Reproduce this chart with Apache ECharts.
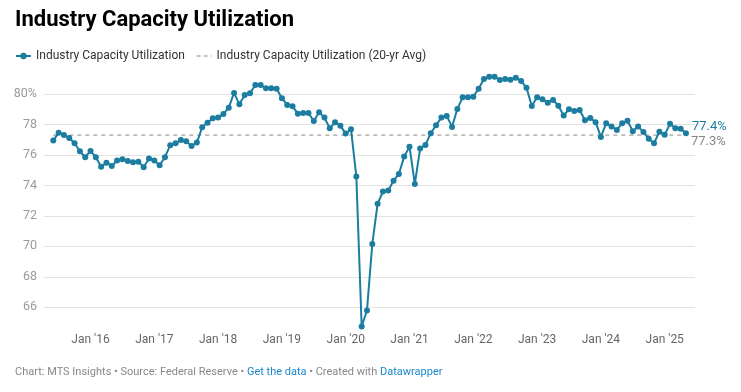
<!DOCTYPE html>
<html><head><meta charset="utf-8">
<script src="https://cdn.jsdelivr.net/npm/echarts@6/dist/echarts.min.js"></script>
<style>html,body{margin:0;padding:0;background:#fff}#c{width:741px;height:392px}</style>
</head><body><div id="c"></div>
<script>
// Monthly, June 2015 .. May 2025
const seriesName = 'Industry Capacity Utilization';
const avgName = 'Industry Capacity Utilization (20-yr Avg)';
const values = [
  76.94, 77.46, 77.31, 77.11, 76.77, 76.24, 75.85,            // Jun-Dec 2015
  76.26, 75.85, 75.23, 75.49, 75.28, 75.63, 75.72, 75.60, 75.52, 75.56, 75.19, 75.76, // 2016
  75.63, 75.32, 75.85, 76.64, 76.77, 76.98, 76.90, 76.59, 76.81, 77.81, 78.12, 78.40, // 2017
  78.45, 78.69, 79.10, 80.07, 79.32, 79.93, 80.05, 80.59, 80.59, 80.37, 80.37, 80.35, // 2018
  79.72, 79.28, 79.19, 78.71, 78.75, 78.75, 78.23, 78.80, 78.45, 77.75, 78.14, 77.92, // 2019
  77.40, 77.68, 74.58, 64.74, 65.79, 70.16, 72.79, 73.60, 73.66, 74.30, 74.75, 75.89, // 2020
  76.54, 74.10, 76.42, 76.66, 77.42, 77.95, 78.45, 78.56, 77.84, 79.02, 79.78, 79.78, // 2021
  79.82, 80.35, 80.98, 81.13, 81.13, 80.92, 80.98, 80.94, 81.07, 80.85, 80.41, 79.21, // 2022
  79.78, 79.65, 79.43, 79.61, 79.23, 78.58, 79.00, 78.89, 78.95, 78.28, 78.43, 78.15, // 2023
  77.18, 78.08, 77.86, 77.64, 78.08, 78.24, 77.56, 77.87, 77.50, 77.06, 76.77, 77.52, // 2024
  77.32, 78.04, 77.75, 77.72, 77.42                                                   // 2025
];
const avgValue = 77.3;
const xTickIndices = [7, 19, 31, 43, 55, 67, 79, 91, 103, 115];
const xTickLabels = ["Jan '16", "Jan '17", "Jan '18", "Jan '19", "Jan '20", "Jan '21", "Jan '22", "Jan '23", "Jan '24", "Jan '25"];
const yTicks = [66, 68, 70, 72, 74, 76, 78, 80];

const BLUE = '#1b7d9f';
const FONT = 'Roboto, "Noto Sans", sans-serif';

const mainData = values.map((v, i) => [i, v]);
const avgData = values.map((v, i) => [i, avgValue]);

const chart = echarts.init(document.getElementById('c'), null, {renderer: 'canvas'});
chart.setOption({
  animation: false,
  backgroundColor: '#fff',
  textStyle: {fontFamily: FONT},
  title: [{
    text: 'Industry Capacity Utilization',
    left: 15, top: 9, padding: 0,
    textStyle: {fontSize: 22, fontWeight: 'bold', color: '#000', fontFamily: FONT}
  }, {
    text: '{g|Chart: MTS Insights • Source: Federal Reserve • }{b|Get the data}{g| • Created with }{b|Datawrapper}',
    left: 15, top: 367, padding: 0,
    textStyle: {
      fontSize: 11, fontWeight: 'normal', fontFamily: FONT,
      rich: {
        g: {color: '#888888', fontSize: 11, fontFamily: FONT},
        b: {color: '#1a87c9', fontSize: 11, fontFamily: FONT}
      }
    }
  }],
  legend: {
    left: 15, top: 50, padding: 0,
    itemWidth: 15, itemHeight: 8, itemGap: 11,
    textStyle: {fontSize: 12, color: '#333', fontFamily: FONT},
    data: [
      {name: seriesName},
      {name: avgName, itemStyle: {color: 'transparent', borderColor: 'transparent', borderWidth: 0, opacity: 0},
       lineStyle: {color: '#b0b0b0', width: 1.5, type: [4, 3]}}
    ]
  },
  grid: {left: 44, right: 46, top: 63.5, bottom: 54.2, containLabel: false},
  xAxis: {
    type: 'value', min: -1.75, max: 120.7,
    axisLine: {show: false}, axisTick: {show: false}, splitLine: {show: false},
    axisLabel: {
      customValues: xTickIndices,
      formatter: v => xTickLabels[xTickIndices.indexOf(Math.round(v))] || '',
      color: '#666', fontSize: 12, margin: -4, fontFamily: FONT
    }
  },
  yAxis: {
    type: 'value', min: 64, max: 82, interval: 2,
    axisLine: {show: false}, axisTick: {show: false},
    splitLine: {show: true, showMinLine: false, showMaxLine: false, lineStyle: {color: '#e3e3e3', width: 1}},
    axisLabel: {
      color: '#9a9a9a', fontSize: 12.5, margin: 7, fontFamily: FONT,
      formatter: v => yTicks.indexOf(v) < 0 ? '' : (v === 80 ? v + '%' : String(v))
    }
  },
  series: [{
    name: avgName, type: 'line', data: avgData,
    showSymbol: false, symbol: 'none',
    lineStyle: {color: '#a0a0a0', width: 1.2, type: [4, 4]},
    itemStyle: {color: '#a0a0a0'},
    z: 1,
    endLabel: {
      show: true, distance: 5, offset: [0, 7],
      formatter: p => avgValue.toFixed(1) + '%',
      color: '#888', fontSize: 13, fontFamily: FONT
    }
  }, {
    name: seriesName, type: 'line', data: mainData,
    showSymbol: true, symbol: 'circle', symbolSize: 6,
    lineStyle: {color: BLUE, width: 2},
    itemStyle: {color: BLUE},
    z: 3,
    endLabel: {
      show: true, distance: 6, offset: [0, -7],
      formatter: p => p.value[1].toFixed(1) + '%',
      color: BLUE, fontSize: 13, fontFamily: FONT
    }
  }]
});
</script>
</body></html>
